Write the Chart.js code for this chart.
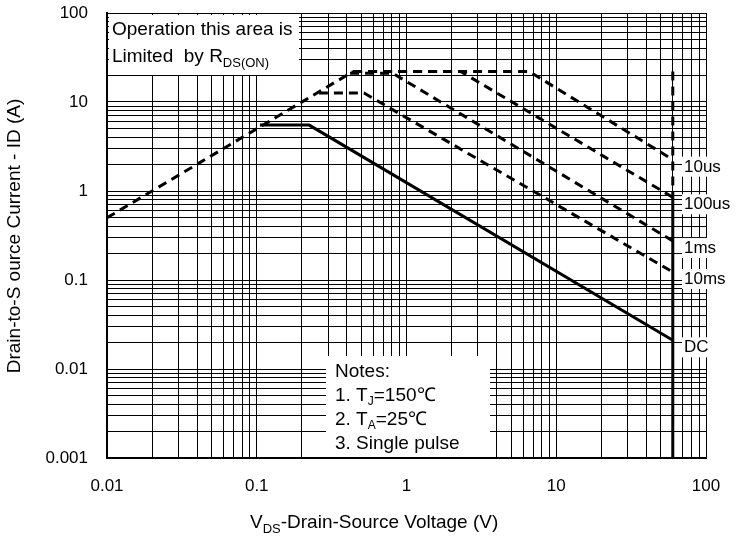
<!DOCTYPE html><html><head><script src="https://cdn.jsdelivr.net/npm/chart.js"></script>
<style>body{margin:0;background:#fff}#w{width:738px;height:541px}</style></head><body><div id="w"><canvas id="c"></canvas></div>
<script>
const rdsX=[0.01,0.44], rdsY=[0.5,22];
const us10X=[0.44,6.6,60], us10Y=[22,22,2.25];
const us100X=[0.44,2.3,60], us100Y=[22,22,0.85];
const ms1X=[0.42,0.81,60], ms1Y=[21,21,0.275];
const ms10X=[0.26,0.52,60], ms10Y=[12.6,12.6,0.123];
const dcX=[0.105,0.224,60], dcY=[5.5,5.5,0.021];
const limDashX=[60,60], limDashY=[22,0.85];
const limSolidX=[60,60], limSolidY=[0.85,0.001];
const xTickLabels=["0.01","0.1","1","10","100"];
const yTickLabels=["0.001","0.01","0.1","1","10","100"];
const curveLabels=[["10us",2.25],["100us",0.85],["1ms",0.275],["10ms",0.123],["DC",0.021]];
const pts=(xs,ys)=>xs.map((x,i)=>({x,y:ys[i]}));
const ds=(xs,ys,dash,w)=>({data:pts(xs,ys),showLine:true,borderColor:'#000',borderWidth:w,borderDash:dash,pointRadius:0,fill:false});
function allTicks(a,b){const t=[];for(let e=a;e<b;e++)for(let m=1;m<10;m++)t.push({value:+(m*Math.pow(10,e)).toPrecision(3)});t.push({value:Math.pow(10,b)});return t;}
const F="'Liberation Sans', Arial, sans-serif";
const deco={id:'deco',afterDatasetsDraw(ch){const c=ch.ctx,xs=ch.scales.x,ys=ch.scales.y,a=ch.chartArea;c.save();
c.fillStyle='#fff';
c.fillRect(a.left+2,a.top+2,190,60);
c.fillRect(326,356,164,a.bottom-357);
c.fillStyle='#000';c.textBaseline='alphabetic';c.textAlign='left';
c.font='19px '+F;
const tx=a.left+5,ty=a.top;
c.fillText('Operation this area is',tx,ty+22);
c.fillText('Limited  by R',tx,ty+49);let w=c.measureText('Limited  by R').width;
c.font='13px '+F;c.fillText('DS(ON)',tx+w,ty+54);
c.font='19px '+F;
const nx=335;c.fillText('Notes:',nx,377);
c.fillText('1. T',nx,401);w=c.measureText('1. T').width;c.font='12px '+F;c.fillText('J',nx+w,405);let w2=c.measureText('J').width;c.font='19px '+F;c.fillText('=150℃',nx+w+w2,401);
c.fillText('2. T',nx,425);w=c.measureText('2. T').width;c.font='12px '+F;c.fillText('A',nx+w,429);w2=c.measureText('A').width;c.font='19px '+F;c.fillText('=25℃',nx+w+w2,425);
c.fillText('3. Single pulse',nx,449);
c.font='17px '+F;
curveLabels.forEach(([t,v])=>{const y=ys.getPixelForValue(v)+12;const tw=c.measureText(t).width;c.fillStyle='#fff';c.fillRect(682,y-15,tw+4,20);c.fillStyle='#000';c.fillText(t,684,y);});
c.restore();
c.save();c.fillStyle='#000';c.font='19px '+F;c.textAlign='left';
let x0=250,y0=528;c.fillText('V',x0,y0);w=c.measureText('V').width;c.font='13px '+F;c.fillText('DS',x0+w,y0+5);w2=c.measureText('DS').width;c.font='19px '+F;c.fillText('-Drain-Source Voltage (V)',x0+w+w2,y0);
c.translate(20,236);c.rotate(-Math.PI/2);c.textAlign='center';c.fillText('Drain-to-S ource Current - ID (A)',0,0);
c.restore();}};
new Chart(document.getElementById('c'),{type:'scatter',data:{datasets:[
ds(rdsX,rdsY,[9,6],3),ds(us10X,us10Y,[9,6],3),ds(us100X,us100Y,[9,6],3),ds(ms1X,ms1Y,[9,6],3),ds(ms10X,ms10Y,[9,6],3),ds(dcX,dcY,[],3),ds(limDashX,limDashY,[9,6],3),ds(limSolidX,limSolidY,[],3)]},
options:{animation:false,responsive:true,maintainAspectRatio:false,layout:{padding:{top:13,right:32,left:0,bottom:0}},
plugins:{legend:{display:false},tooltip:{enabled:false}},
scales:{x:{type:'logarithmic',min:0.01,max:100,afterBuildTicks:s=>{s.ticks=allTicks(-2,2);},afterFit:s=>{s.height=83;s.paddingLeft=0;s.paddingRight=0;},
grid:{color:'#000',lineWidth:1,drawTicks:false},border:{color:'#000',width:2},
ticks:{autoSkip:false,maxRotation:0,padding:18,color:'#000',font:{size:17,family:F},callback:v=>{const l=Math.log10(v);return Math.abs(l-Math.round(l))<1e-6?xTickLabels[Math.round(l)+2]:'';}}},
y:{type:'logarithmic',min:0.001,max:100,afterBuildTicks:s=>{s.ticks=allTicks(-3,2);},afterFit:s=>{s.width=107;s.paddingTop=0;s.paddingBottom=0;},
grid:{color:'#000',lineWidth:1,drawTicks:false},border:{color:'#000',width:2},
ticks:{autoSkip:false,padding:19,color:'#000',font:{size:17,family:F},callback:v=>{const l=Math.log10(v);return Math.abs(l-Math.round(l))<1e-6?yTickLabels[Math.round(l)+3]:'';}}}}},
plugins:[deco]});
</script></body></html>
